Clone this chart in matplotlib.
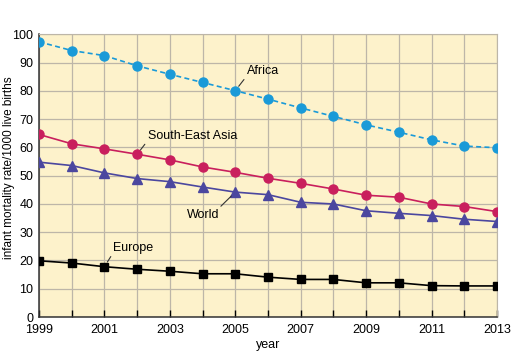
import matplotlib.pyplot as plt

plt.rcParams['font.family'] = ['Liberation Sans', 'DejaVu Sans']

years = list(range(1999, 2014))
africa = [97.4, 94.3, 92.5, 88.9, 85.9, 83.0, 80.1, 77.1, 74.0, 71.0, 68.0, 65.4, 62.7, 60.5, 59.9]
se_asia = [64.6, 61.3, 59.5, 57.6, 55.6, 53.1, 51.2, 49.1, 47.3, 45.3, 43.1, 42.4, 40.0, 39.1, 37.3]
world = [54.8, 53.6, 51.0, 49.0, 47.9, 46.0, 44.2, 43.3, 40.6, 40.0, 37.6, 36.7, 35.9, 34.6, 33.8]
europe = [19.9, 19.1, 17.8, 16.9, 16.2, 15.3, 15.3, 14.1, 13.3, 13.3, 12.1, 12.1, 11.1, 11.0, 11.0]

fs = 9
fig = plt.figure(figsize=(5.12, 3.55), dpi=100)
ax = fig.add_axes([0.0762, 0.107, 0.8945, 0.796])
ax.set_facecolor('#fdf2cb')

ax.plot(years, africa, color='#1a9ad8', ls=(0, (3, 2)), lw=1.2,
        marker='o', ms=6.5, zorder=3)
ax.plot(years, se_asia, color='#c91f5d', lw=1.2, marker='o', ms=6.5, zorder=3)
ax.plot(years, world, color='#4b479f', lw=1.2, marker='^', ms=6.5, zorder=3)
ax.plot(years, europe, color='black', lw=1.2, marker='s', ms=5.5, zorder=3)

ax.set_xlim(1999, 2013)
ax.set_ylim(0, 100)
ax.set_xticks(years)
ax.set_xticklabels([str(y) if y % 2 == 1 else '' for y in years])
ax.set_yticks(range(0, 101, 10))
ax.grid(True, color='#bdb6a8', lw=0.9)
ax.set_axisbelow(True)
ax.tick_params(axis='x', direction='in', length=5, width=1, labelsize=fs, pad=5)
ax.tick_params(axis='y', direction='in', length=0, labelsize=fs, pad=4)

for side in ['top', 'right']:
    ax.spines[side].set_color('#bdb6a8')
for side in ['left', 'bottom']:
    ax.spines[side].set_color('#333333')
    ax.spines[side].set_linewidth(1.1)

ax.set_xlabel('year', fontsize=fs, labelpad=2)
ax.set_ylabel('infant mortality rate/1000 live births', fontsize=8.5)
ax.yaxis.set_label_coords(-0.053, 0.53)

lead = dict(arrowstyle='-', color='#333333', lw=0.8, shrinkA=0, shrinkB=4)
ax.annotate('Africa', xy=(2005, africa[6]), xytext=(2005.35, 87),
            fontsize=fs, ha='left', va='center',
            arrowprops=dict(lead, relpos=(0, 0.1)))
ax.annotate('South-East Asia', xy=(2002, se_asia[3]), xytext=(2002.32, 64.1),
            fontsize=fs, ha='left', va='center',
            arrowprops=dict(lead, relpos=(0, 0.1)))
ax.annotate('World', xy=(2005, world[6]), xytext=(2003.53, 36.1),
            fontsize=fs, ha='left', va='center',
            arrowprops=dict(lead, relpos=(0.95, 1.0)))
ax.annotate('Europe', xy=(2001, europe[2]), xytext=(2001.27, 24.5),
            fontsize=fs, ha='left', va='center',
            arrowprops=dict(lead, relpos=(0, 0.1)))

fig.savefig('out.png', dpi=100)
